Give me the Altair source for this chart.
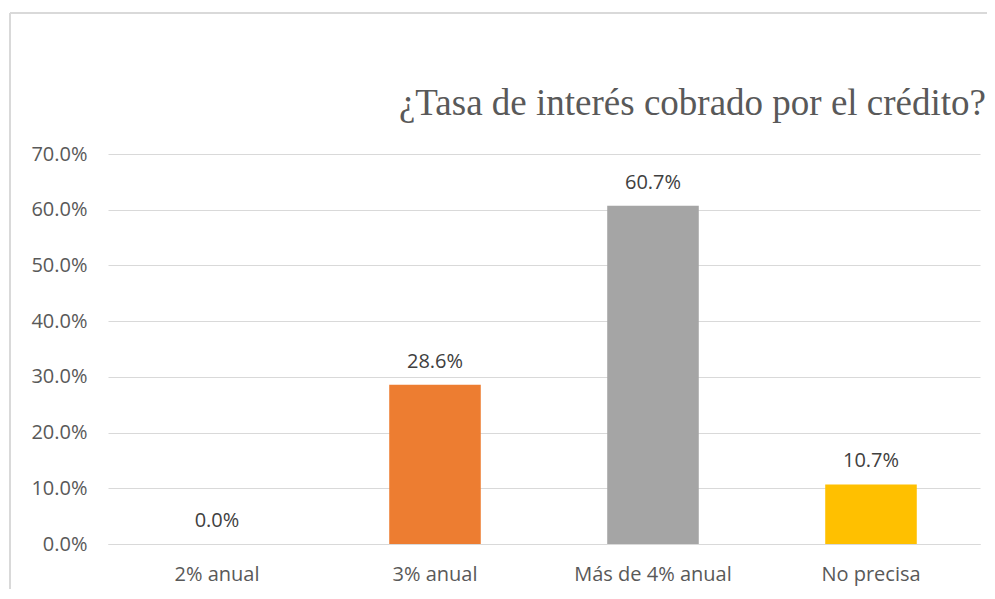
import altair as alt
import pandas as pd

categories = ["2% anual", "3% anual", "Más de 4% anual", "No precisa"]
values = [0.0, 0.286, 0.607, 0.107]
colors = ["#4472C4", "#ED7D31", "#A5A5A5", "#FFC000"]
title_text = "¿Tasa de interés cobrado por el crédito?"

df = pd.DataFrame({"cat": categories, "val": values})

x = alt.X("cat:N", sort=categories, title=None,
          scale=alt.Scale(paddingInner=0.58, paddingOuter=0.29),
          axis=alt.Axis(labelAngle=0, labelFont="Open Sans", labelFontSize=20,
                        labelColor="#595959", ticks=False, domain=True,
                        domainColor="#D9D9D9", labelPadding=20))
y = alt.Y("val:Q", title=None,
          scale=alt.Scale(domain=[0, 0.7], nice=False),
          axis=alt.Axis(format=".1%", values=[0, 0.1, 0.2, 0.3, 0.4, 0.5, 0.6, 0.7],
                        labelFont="Open Sans", labelFontSize=20, labelColor="#595959",
                        ticks=False, domain=False, grid=True, gridColor="#D9D9D9",
                        labelPadding=21))

base = alt.Chart(df)
bars = base.mark_bar().encode(
    x=x, y=y,
    color=alt.Color("cat:N", sort=categories,
                    scale=alt.Scale(domain=categories, range=colors), legend=None),
)
labels = base.mark_text(font="Open Sans", fontSize=20, color="#404040",
                        baseline="bottom", dy=-13).encode(
    x=alt.X("cat:N", sort=categories), y="val:Q",
    text=alt.Text("val:Q", format=".1%"),
)
title = alt.Chart(pd.DataFrame({"t": [title_text]})).mark_text(
    font="Liberation Serif", fontSize=37, color="#595959",
    align="right", baseline="alphabetic").encode(
    x=alt.value(878), y=alt.value(-39), text="t:N")
border_left = alt.Chart(df).mark_rule(color="#D9D9D9", strokeWidth=1.5).encode(
    x=alt.value(-98), y=alt.value(-141), y2=alt.value(440))
border_top = alt.Chart(df).mark_rule(color="#D9D9D9", strokeWidth=1.5).encode(
    x=alt.value(-98), x2=alt.value(900), y=alt.value(-141))

chart = alt.layer(border_left, border_top, bars, labels, title).properties(
    width=872, height=390,
    padding={"left": 100, "top": 146, "right": 7, "bottom": 45},
    autosize=alt.AutoSizeParams(type="none"),
).configure_view(stroke=None)

chart.save("out.html", embed_options={"renderer": "svg", "actions": False})
